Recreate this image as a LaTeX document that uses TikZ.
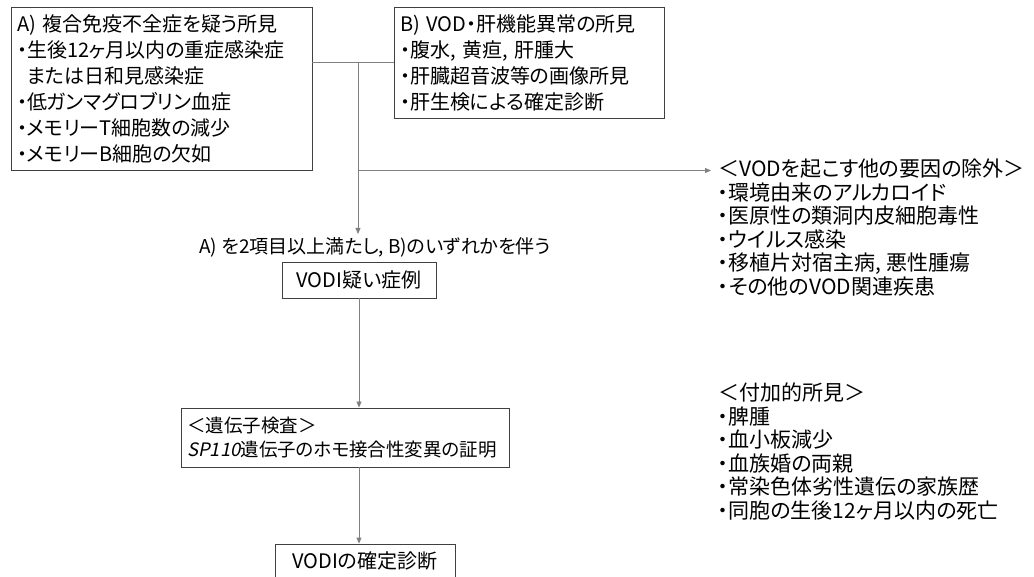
\documentclass[tikz,border=0pt]{standalone}
\usepackage{fontspec}
\setmainfont{Noto Sans CJK JP}[RawFeature=+palt]
\newfontfamily\genefont{Noto Sans CJK JP}[FakeSlant=0.2]
\usetikzlibrary{positioning,arrows.meta}
\begin{document}
\begin{tikzpicture}[x=1pt,y=-1pt,
  font=\fontsize{20pt}{26pt}\selectfont,
  box/.style={draw=black!75, line width=0.8pt, inner xsep=6pt, inner ysep=0pt, align=left},
  plain/.style={inner sep=0pt, align=left},
  link/.style={draw=black!50, line width=0.8pt},
  flow/.style={link, -{Triangle[length=6pt,width=5pt]}},
  list/.style={plain, anchor=north west, font=\fontsize{21pt}{23.5pt}\selectfont}]
\useasboundingbox (0,0) rectangle (1034,577);
% findings A and B
\node (condA) [box, text width=289pt, minimum height=163pt] at (161.5,88.5) {A) 複合免疫不全症を疑う所見\\・生後12ヶ月以内の重症感染症\\\hspace{0.5em}または日和見感染症\\・低ガンマグロブリン血症\\・メモリーT細胞数の減少\\・メモリーB細胞の欠如};
\node (condB) [box, text width=258pt, minimum height=111pt] at (529,62.5) {B) VOD・肝機能異常の所見\\・腹水, 黄疸, 肝腫大\\・肝臓超音波等の画像所見\\・肝生検による確定診断};
\coordinate (fork) at (358,62.5);
\coordinate (branch) at (358,170.5);
\draw[link] (condA.east |- condB.west) -- (condB.west);

% main flow
\node (rule) [plain, inner ysep=3pt, font=\fontsize{19pt}{24pt}\selectfont] at (375,247) {A) を2項目以上満たし, B)のいずれかを伴う};
\node (suspect) [box, minimum width=154pt, minimum height=36pt, inner xsep=0pt] at (359,280) {VODI疑い症例};
\node (gene) [box, text width=316pt, minimum height=59pt, font=\fontsize{18.5pt}{24pt}\selectfont] at (345,437.5) {＜遺伝子検査＞\\{\genefont SP110}遺伝子のホモ接合性変異の証明};
\node (final) [box, minimum width=180pt, minimum height=33pt, inner xsep=0pt] at (365,560.5) {VODIの確定診断};
\draw[flow] (fork) -- (fork |- rule.north);
\draw[flow] (suspect.south) -- (suspect.south |- gene.north);
\draw[flow] (suspect.south |- gene.south) -- (suspect.south |- final.north);

% side lists
\node (exclude) [list] at (718,159) {＜VODを起こす他の要因の除外＞\\・環境由来のアルカロイド\\・医原性の類洞内皮細胞毒性\\・ウイルス感染\\・移植片対宿主病, 悪性腫瘍\\・その他のVOD関連疾患};
\node (extra) [list] at (718,383) {＜付加的所見＞\\・脾腫\\・血小板減少\\・血族婚の両親\\・常染色体劣性遺伝の家族歴\\・同胞の生後12ヶ月以内の死亡};
\draw[flow, shorten >=7pt] (branch) -- (branch -| exclude.west);
\end{tikzpicture}
\end{document}
